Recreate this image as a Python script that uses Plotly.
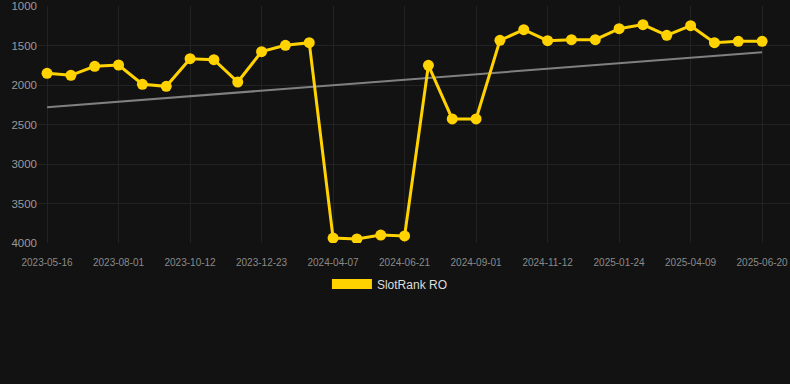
import numpy as np
import plotly.graph_objects as go

dates = [
    "2023-05-16", "2023-06-10", "2023-07-06", "2023-08-01", "2023-08-25", "2023-09-18",
    "2023-10-12", "2023-11-05", "2023-11-29", "2023-12-23", "2024-02-05", "2024-03-10",
    "2024-04-07", "2024-05-02", "2024-05-27", "2024-06-21", "2024-07-15", "2024-08-08",
    "2024-09-01", "2024-09-25", "2024-10-19", "2024-11-12", "2024-12-06", "2024-12-30",
    "2025-01-24", "2025-02-18", "2025-03-15", "2025-04-09", "2025-05-03", "2025-05-27",
    "2025-06-20",
]
rank = [
    1852, 1877, 1763, 1747, 1991, 2017, 1667, 1679, 1962, 1578, 1498, 1464,
    3937, 3949, 3899, 3911, 1751, 2430, 2430, 1435, 1300, 1439, 1426, 1426,
    1287, 1236, 1371, 1249, 1464, 1447, 1447,
]
tick_labels = dates[::3]
y_ticks = [1000, 1500, 2000, 2500, 3000, 3500, 4000]
series_name = "SlotRank RO"

idx = np.arange(len(rank))
slope, intercept = np.polyfit(idx, rank, 1)
trend = slope * idx + intercept

GOLD = "#FFD200"
fig = go.Figure()
fig.add_trace(go.Scatter(
    x=dates, y=trend, mode="lines", line=dict(color="#808080", width=2),
    showlegend=False, hoverinfo="skip",
))
fig.add_trace(go.Scatter(
    x=dates, y=rank, mode="lines+markers", name=series_name,
    line=dict(color=GOLD, width=3), marker=dict(color=GOLD, size=11),
    showlegend=False,
))
fig.add_trace(go.Scatter(
    x=[None], y=[None], mode="lines", name=series_name,
    line=dict(color=GOLD, width=12), showlegend=True,
))

n = len(dates)
fig.update_layout(
    width=790, height=384,
    paper_bgcolor="#121212", plot_bgcolor="#121212",
    margin=dict(l=38, r=0, t=6, b=141),
    font=dict(family="Liberation Sans, Arial, sans-serif"),
    showlegend=True,
    legend=dict(
        orientation="h", x=0.468, xanchor="center", y=-0.173, yanchor="middle",
        font=dict(color="#dddddd", size=12), bgcolor="rgba(0,0,0,0)",
        itemwidth=40,
    ),
    xaxis=dict(
        type="category", range=[-0.38, n - 1 + 1.17],
        tickmode="array", tickvals=tick_labels, ticktext=tick_labels,
        tickfont=dict(color="#8a8a8a", size=10),
        showgrid=True, gridcolor="#222222", gridwidth=1,
        zeroline=False, showline=False,
        ticks="outside", ticklen=10, tickcolor="rgba(0,0,0,0)",
    ),
    yaxis=dict(
        range=[4000, 1000], tickvals=y_ticks,
        tickfont=dict(color="#9a9a9a", size=11.5),
        showgrid=True, gridcolor="#232323", gridwidth=1,
        zeroline=False, showline=False, ticks="",
    ),
)

fig.write_html(
    "out.html",
    config={"displayModeBar": False},
    post_script="document.body.style.margin='0';document.body.style.background='#121212';",
)
